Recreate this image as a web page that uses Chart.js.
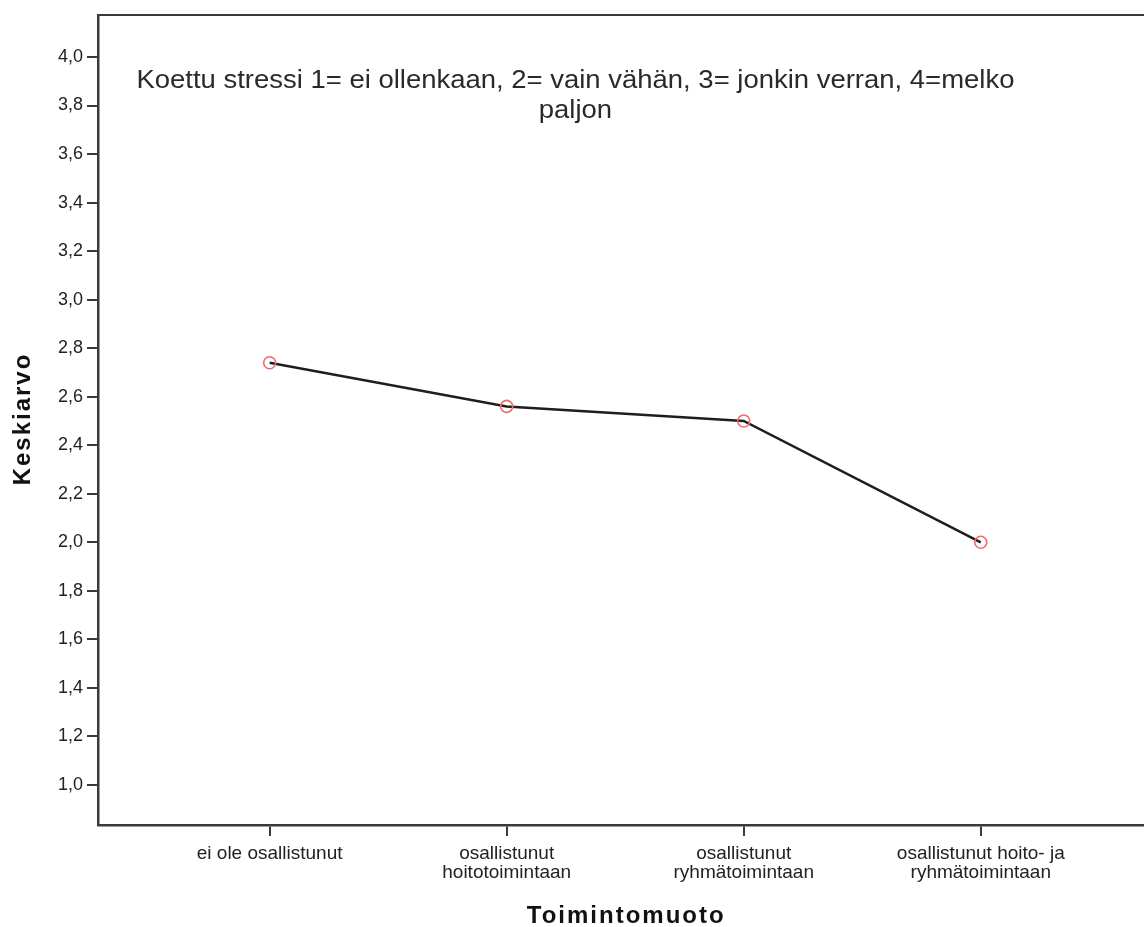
<!DOCTYPE html>
<html>
<head>
<meta charset="utf-8">
<script src="https://cdn.jsdelivr.net/npm/chart.js@4"></script>
<style>
  html, body { margin: 0; padding: 0; background: #fff; overflow: hidden; }
</style>
</head>
<body>
<canvas id="chart" width="1160" height="927"></canvas>
<script>
const categories = [
    ["ei ole osallistunut"],
    ["osallistunut", "hoitotoimintaan"],
    ["osallistunut", "ryhmätoimintaan"],
    ["osallistunut hoito- ja", "ryhmätoimintaan"]
];
const means = [2.74, 2.56, 2.50, 2.00];
const yTicks = [1.0, 1.2, 1.4, 1.6, 1.8, 2.0, 2.2, 2.4, 2.6, 2.8, 3.0, 3.2, 3.4, 3.6, 3.8, 4.0];
const noteLines = [
    "Koettu stressi 1= ei ollenkaan, 2= vain vähän, 3= jonkin verran, 4=melko",
    "paljon"
];
const yTitle = "Keskiarvo";
const xTitle = "Toimintomuoto";

const axisColor = "#3a3a3a";
const textColor = "#222";
const fontFamily = "'Liberation Sans', Arial, sans-serif";

// frame, note text and bold axis titles (letter spaced like the SPSS output)
const decorPlugin = {
    id: "decor",
    afterDraw(chart) {
        const { ctx, chartArea } = chart;
        ctx.save();
        ctx.strokeStyle = axisColor;
        ctx.lineWidth = 2;
        ctx.beginPath();
        ctx.moveTo(chartArea.left, chartArea.top);
        ctx.lineTo(chartArea.right, chartArea.top);
        ctx.lineTo(chartArea.right, chartArea.bottom);
        ctx.stroke();

        // note in the plot area
        ctx.fillStyle = "#2a2a2a";
        ctx.textAlign = "center";
        ctx.textBaseline = "alphabetic";
        ctx.font = "26px " + fontFamily;
        const w = ctx.measureText(noteLines[0]).width;
        const sx = 878 / w;
        const cx = chart.scales.x.getPixelForValue(1.29);
        noteLines.forEach((line, i) => {
            ctx.save();
            ctx.translate(cx, 88 + i * 30);
            ctx.scale(sx, 1);
            ctx.fillText(line, 0, 0);
            ctx.restore();
        });

        // axis titles
        ctx.fillStyle = "#111";
        ctx.font = "bold 24px " + fontFamily;
        ctx.letterSpacing = "2px";
        ctx.textBaseline = "middle";
        ctx.fillText(xTitle, (chartArea.left + chartArea.right) / 2 + 1, 916);
        ctx.translate(23, (chartArea.top + chartArea.bottom) / 2);
        ctx.rotate(-Math.PI / 2);
        ctx.fillText(yTitle, 1, 0);
        ctx.restore();
    }
};

const ctx = document.getElementById("chart").getContext("2d");
new Chart(ctx, {
    type: "line",
    data: {
        datasets: [{
            data: means.map((v, i) => ({ x: i, y: v })),
            borderColor: "#1e1e1e",
            borderWidth: 2.5,
            pointRadius: 6,
            pointHoverRadius: 6,
            pointBorderWidth: 1.6,
            pointBorderColor: "#f26b6b",
            pointBackgroundColor: "rgba(255,255,255,0)",
            tension: 0
        }]
    },
    options: {
        responsive: false,
        animation: false,
        layout: { padding: { top: 15, right: 6, left: 0, bottom: 0 } },
        plugins: {
            legend: { display: false },
            tooltip: { enabled: false }
        },
        scales: {
            x: {
                type: "linear",
                min: -0.724,
                max: 3.724,
                afterBuildTicks: (scale) => {
                    scale.ticks = categories.map((c, i) => ({ value: i }));
                },
                afterFit: (scale) => { scale.height = 102; },
                border: { color: axisColor, width: 2.5 },
                grid: {
                    drawOnChartArea: false,
                    drawTicks: true,
                    tickLength: 11,
                    color: axisColor,
                    lineWidth: 2
                },
                ticks: {
                    autoSkip: false,
                    maxRotation: 0,
                    padding: 8,
                    color: textColor,
                    font: { family: fontFamily, size: 19, lineHeight: 1.0 },
                    callback: (v) => categories[v]
                }
            },
            y: {
                min: 0.835,
                max: 4.173,
                afterBuildTicks: (scale) => {
                    scale.ticks = yTicks.map(v => ({ value: v }));
                },
                afterFit: (scale) => { scale.width = 98; },
                border: { color: axisColor, width: 2.5 },
                grid: {
                    drawOnChartArea: false,
                    drawTicks: true,
                    tickLength: 11,
                    color: axisColor,
                    lineWidth: 2
                },
                ticks: {
                    padding: 4,
                    color: textColor,
                    font: { family: fontFamily, size: 18 },
                    callback: (v) => v.toFixed(1).replace(".", ",")
                }
            }
        }
    },
    plugins: [decorPlugin]
});
</script>
</body>
</html>
